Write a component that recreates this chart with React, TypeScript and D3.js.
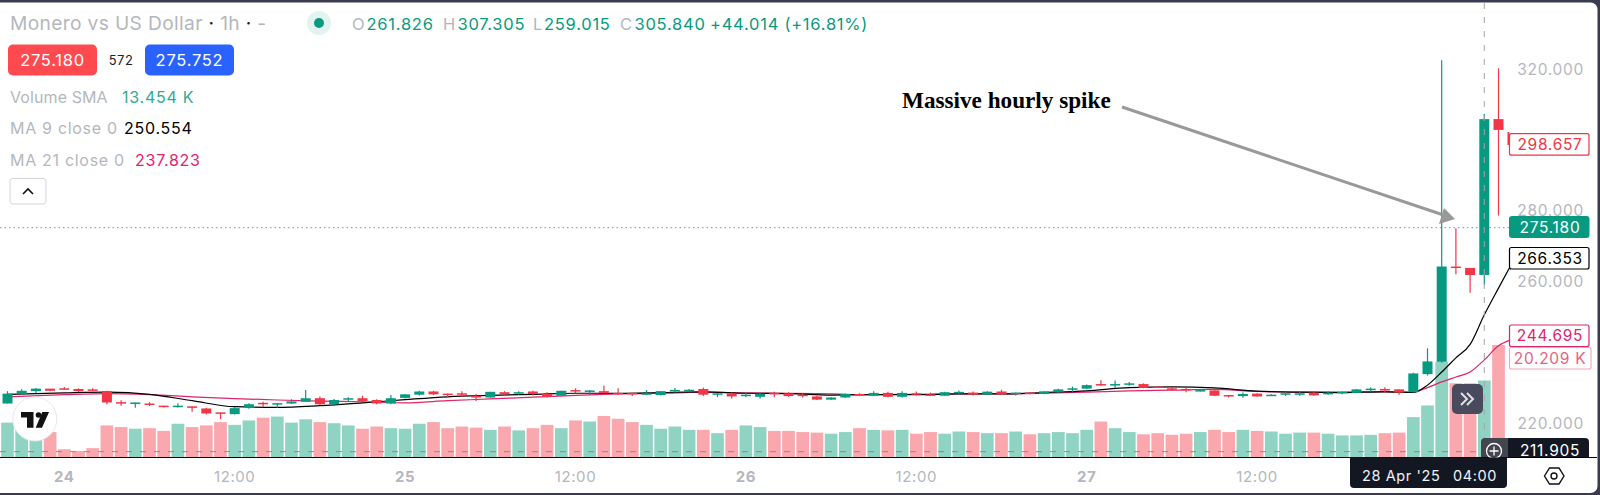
import * as d3 from 'd3';

// hourly XMR/USD candles
const opens = [
  225.5, 228.2, 229.0, 229.7, 229.8, 229.6, 229.5, 229.0, 225.9, 225.6,
  225.5, 224.9, 224.7, 224.7, 224.1, 223.0, 222.5, 224.3, 225.7, 225.3,
  225.5, 226.0, 227.0, 225.3, 226.6, 227.0, 226.5, 225.5, 227.1, 228.0,
  228.9, 228.3, 228.4, 227.7, 227.2, 228.7, 228.4, 228.9, 228.2, 227.7,
  229.3, 228.8, 229.0, 228.5, 228.5, 228.2, 227.9, 229.05, 229.1, 229.6,
  228.1, 228.3, 227.8, 227.4, 228.5, 228.4, 228.0, 227.5, 226.6, 227.2,
  228.2, 227.7, 228.5, 227.4, 228.4, 228.1, 227.7, 228.4, 228.6, 228.0,
  228.9, 228.2, 228.6, 228.2, 228.8, 229.5, 229.7, 231.0, 230.8, 230.9,
  231.0, 230.3, 229.8, 229.6, 229.0, 229.2, 227.9, 227.6, 228.3, 227.8,
  228.1, 228.1, 228.6, 228.1, 228.5, 228.5, 229.4, 229.6, 229.5, 228.7,
  233.8, 237.3, 264.2, 263.8, 261.826, 305.84,
];
const highs = [
  229.0, 229.5, 229.9, 229.7, 230.2, 229.8, 229.8, 229.1, 226.4, 225.8,
  225.9, 224.9, 225.6, 224.7, 224.3, 223.0, 224.5, 225.6, 226.0, 225.6,
  226.7, 229.3, 227.5, 226.8, 227.3, 227.7, 226.7, 227.9, 228.1, 229.1,
  229.1, 228.3, 229.0, 228.2, 228.8, 229.0, 229.0, 229.1, 228.7, 229.1,
  229.8, 229.3, 230.6, 229.8, 228.5, 229.3, 229.0, 229.9, 229.6, 230.0,
  228.4, 228.6, 228.6, 228.4, 228.8, 228.7, 228.3, 227.7, 227.3, 228.3,
  228.4, 229.0, 228.8, 229.0, 228.9, 228.6, 228.8, 229.2, 228.9, 229.0,
  229.4, 228.6, 228.6, 229.0, 229.7, 230.3, 230.9, 232.1, 232.0, 231.6,
  231.2, 230.4, 230.2, 230.0, 229.4, 229.3, 227.9, 228.6, 228.4, 228.1,
  228.8, 229.0, 229.0, 229.0, 229.0, 229.6, 230.0, 230.1, 229.5, 234.2,
  241.1, 322.5, 275.0, 263.8, 307.305, 320.2,
];
const lows = [
  225.5, 228.0, 228.4, 229.0, 229.5, 228.8, 229.0, 225.3, 224.9, 224.3,
  224.8, 224.4, 224.4, 223.2, 222.4, 221.1, 222.4, 224.0, 224.6, 224.3,
  225.4, 226.0, 225.1, 224.7, 226.0, 226.0, 225.3, 225.3, 226.9, 227.8,
  227.9, 227.2, 227.4, 226.2, 227.1, 227.8, 228.0, 227.8, 227.2, 227.7,
  228.4, 227.9, 228.4, 227.9, 227.6, 227.9, 227.8, 228.7, 228.7, 227.6,
  227.3, 226.9, 227.3, 226.9, 227.3, 227.4, 227.2, 226.5, 226.5, 227.1,
  227.8, 227.6, 227.3, 227.2, 227.8, 227.6, 227.6, 228.1, 227.8, 227.9,
  227.9, 227.8, 228.1, 228.1, 228.4, 228.8, 229.6, 230.5, 229.8, 230.5,
  229.8, 229.9, 229.2, 228.7, 228.9, 227.6, 227.2, 227.1, 227.4, 227.6,
  227.6, 227.7, 227.7, 227.9, 228.1, 228.4, 228.8, 228.7, 228.0, 228.6,
  233.4, 237.0, 262.0, 256.8, 259.015, 278.6,
];
const closes = [
  228.3, 229.1, 229.7, 229.1, 229.6, 229.0, 229.1, 225.8, 225.7, 225.8,
  225.2, 224.6, 224.9, 224.4, 222.7, 222.8, 224.2, 225.3, 225.5, 225.6,
  226.1, 227.0, 225.3, 226.5, 227.0, 226.2, 225.5, 227.0, 228.1, 228.9,
  228.1, 228.1, 228.1, 227.2, 228.8, 228.2, 228.7, 228.2, 227.4, 229.1,
  229.1, 229.2, 228.5, 228.3, 228.2, 228.4, 229.0, 229.35, 229.4, 228.0,
  228.4, 227.5, 228.0, 228.3, 228.3, 227.6, 227.6, 226.6, 227.2, 228.2,
  227.9, 228.5, 227.4, 228.5, 228.1, 227.9, 228.7, 228.8, 228.0, 228.85,
  228.1, 228.6, 228.3, 228.95, 229.5, 229.8, 230.7, 230.7, 231.0, 231.2,
  229.9, 230.0, 229.6, 229.4, 229.3, 227.7, 227.65, 228.2, 227.5, 228.0,
  228.4, 228.4, 227.8, 228.6, 228.8, 229.5, 229.7, 229.2, 228.6, 234.0,
  237.4, 264.2, 263.9, 261.8, 305.84, 302.8,
];
// thousands
const volumes = [
  6.2, 6.6, 6.0, 4.5, 1.4, 1.1, 1.6, 5.7, 5.4, 5.1,
  5.2, 4.7, 6.0, 5.4, 5.7, 6.3, 5.8, 6.6, 7.1, 7.3,
  6.2, 6.8, 6.3, 6.1, 5.7, 5.1, 5.5, 5.2, 5.1, 6.0,
  6.3, 5.2, 5.5, 5.3, 4.9, 5.5, 4.8, 5.2, 5.8, 5.2,
  6.6, 6.4, 7.4, 6.9, 6.3, 5.8, 5.1, 5.5, 4.9, 4.9,
  4.3, 4.9, 5.7, 5.4, 4.7, 4.7, 4.5, 4.4, 4.2, 4.5,
  5.2, 4.9, 4.8, 4.9, 4.2, 4.5, 4.2, 4.6, 4.5, 4.3,
  4.3, 4.6, 4.1, 4.3, 4.5, 4.3, 4.9, 6.4, 5.2, 4.5,
  4.1, 4.3, 4.0, 4.2, 4.5, 4.9, 4.5, 4.9, 4.7, 4.6,
  4.2, 4.4, 4.4, 4.2, 3.9, 3.9, 4.0, 4.3, 4.4, 7.2,
  9.3, 17.2, 13.3, 13.3, 13.8, 20.209,
];

// moving averages, read at these bar positions
const maBars = [
  0, 4, 7, 10, 13, 16, 19, 22, 25, 28, 31, 34, 37, 40, 43, 46, 49, 52, 55, 58, 61, 64,
  67, 70, 73, 76, 79, 82, 85, 88, 91, 94, 97, 99, 100, 101, 102, 103, 104, 105, 105.8,
];
const ma9 = [
  228.1, 228.5, 228.7, 228.1, 226.3, 224.6, 224.4, 224.9, 225.7, 226.6, 227.4, 227.8, 228.1, 228.4,
  228.4, 228.6, 228.8, 228.4, 228.3, 227.9, 228.0, 228.0, 228.2, 228.2, 228.6, 229.1, 230.0, 230.2,
  229.9, 229.0, 228.7, 228.6, 228.8, 228.66, 230.7, 234.4, 238.4, 242.2, 250.554, 258.1, 264.0,
];
const ma21 = [
  227.4, 228.0, 228.3, 228.0, 227.4, 226.9, 226.5, 226.2, 226.0, 225.7, 226.3, 226.8, 227.3, 227.8,
  228.2, 228.4, 228.7, 228.5, 228.4, 228.2, 228.0, 228.1, 228.2, 228.2, 228.4, 228.7, 229.1, 229.3,
  229.5, 228.9, 228.75, 228.75, 228.85, 228.7, 230.0, 231.6, 233.0, 234.4, 237.823, 241.8, 243.4,
];

const priceTicks = [220, 260, 280, 320];
const timeBars = [4, 16, 28, 40, 52, 64, 76, 88];
const timeLabels = ['24', '12:00', '25', '12:00', '26', '12:00', '27', '12:00'];
const ohlcLabels = ['O', 'H', 'L', 'C'];
const ohlcValues = ['261.826', '307.305', '259.015', '305.840'];
const ohlcX = [352, 443, 533, 620];

const UP = '#089981';
const DOWN = '#f23645';
const GREY = '#b4b7be';
const PINK = '#e0246b';
const FONT = 'Inter, sans-serif';

const x = d3.scaleLinear().domain([0, 105]).range([7.5, 1498.5]);
const y = d3.scaleLinear().domain([220, 320]).range([423, 69]);
const vol = d3.scaleLinear().domain([0, 20.209]).range([457, 345]);

const maPath = (values: number[]) =>
  d3
    .line<number>()
    .x((_, i) => x(maBars[i]))
    .y((d) => y(d))
    .curve(d3.curveMonotoneX)(values) as string;

// price tag on the right-hand scale
const Tag = ({ top, h = 21.5, value, stroke, color, fill = '#fff', right = 1589 }: any) => (
  <g>
    <rect x={1509.5} y={top} width={right - 1509.5} height={h} rx={2} fill={fill} stroke={stroke} strokeWidth={1.2} />
    <text x={1550} y={top + h / 2 + 5.5} textAnchor="middle" fontSize={15.5} letterSpacing={0.7} fill={color}>
      {value}
    </text>
  </g>
);

export default function App() {
  const volBarWidth = 12.7;
  const bodyWidth = 10;

  return (
    <svg
      width={1600}
      height={495}
      style={{ position: 'absolute', left: 0, top: 0, display: 'block' }}
      fontFamily={FONT}
    >
      <rect width={1600} height={495} fill="#3b3b4f" />
      <rect x={-8} y={2.5} width={1605.5} height={490.5} rx={7} fill="#fff" />

      {/* volume */}
      {volumes.map((v, i) => (
        <rect
          key={i}
          x={x(i) - volBarWidth / 2}
          y={vol(v)}
          width={volBarWidth}
          height={vol(0) - vol(v)}
          fill={closes[i] >= opens[i] ? '#8fd4c3' : '#faa8ae'}
        />
      ))}

      {/* last price + crosshair */}
      <line x1={0} x2={1509} y1={y(275.18)} y2={y(275.18)} stroke={UP} strokeWidth={1} strokeDasharray="1.5 3" opacity={0.75} />
      <line x1={0} x2={1482} y1={y(211.905)} y2={y(211.905)} stroke="#8c8c8c" strokeWidth={1} strokeDasharray="6 8" />

      {/* moving averages */}
      <path d={maPath(ma21)} fill="none" stroke={PINK} strokeWidth={1.2} />
      <path d={maPath(ma9)} fill="none" stroke="#000" strokeWidth={1.2} />

      {/* candles */}
      {opens.map((o, i) => {
        const c = closes[i];
        const col = c >= o ? UP : DOWN;
        const top = y(Math.max(o, c));
        const bodyH = Math.max(1.5, Math.abs(y(o) - y(c)));
        return (
          <g key={i}>
            <line x1={x(i)} x2={x(i)} y1={y(highs[i])} y2={y(lows[i])} stroke={col} strokeWidth={1.2} />
            <rect x={x(i) - bodyWidth / 2} y={top} width={bodyWidth} height={bodyH} fill={col} />
          </g>
        );
      })}

      <line x1={x(104)} x2={x(104)} y1={3} y2={457} stroke="#a2a4a8" strokeWidth={1} strokeDasharray="6 8" />

      {/* axis */}
      <line x1={0} x2={1597} y1={457.5} y2={457.5} stroke="#000" strokeWidth={1.2} />
      {priceTicks.map((t) => (
        <text key={t} x={1584} y={y(t) + 5.5} textAnchor="end" fontSize={15.5} letterSpacing={0.7} fill={GREY}>
          {t.toFixed(3)}
        </text>
      ))}
      {timeBars.map((b, i) => (
        <text
          key={b}
          x={x(b)}
          y={482}
          textAnchor="middle"
          fontSize={15}
          letterSpacing={0.6}
          fontWeight={timeLabels[i].includes(':') ? 400 : 700}
          fill={GREY}
        >
          {timeLabels[i]}
        </text>
      ))}

      {/* header */}
      <text x={10} y={30} fontSize={19.2} letterSpacing={0.35} fill={GREY}>
        Monero vs US Dollar <tspan fill="#222">·</tspan> 1h <tspan fill="#222">·</tspan> -
      </text>
      <circle cx={319} cy={23} r={12} fill="#e3f3ef" />
      <circle cx={319} cy={23} r={5} fill={UP} />
      {ohlcLabels.map((l, i) => (
        <g key={l} fontSize={16.5} letterSpacing={0.75}>
          <text x={ohlcX[i]} y={30} fill={GREY}>{l}</text>
          <text x={ohlcX[i] + (l === 'L' ? 11 : 14.5)} y={30} fill={UP}>{ohlcValues[i]}</text>
        </g>
      ))}
      <text x={710} y={30} fontSize={16.5} letterSpacing={0.75} fill={UP}>+44.014 (+16.81%)</text>

      <rect x={8} y={44.5} width={89} height={31} rx={5} fill="#ff4a4f" />
      <text x={52.5} y={66} textAnchor="middle" fontSize={16.5} letterSpacing={0.75} fill="#fff">275.180</text>
      <text x={121} y={65} textAnchor="middle" fontSize={13} letterSpacing={0.5} fill="#222">572</text>
      <rect x={145} y={44.5} width={89} height={31} rx={5} fill="#2962ff" />
      <text x={189.5} y={66} textAnchor="middle" fontSize={16.5} letterSpacing={0.75} fill="#fff">275.752</text>

      <g fontSize={16} letterSpacing={0.75}>
        <text x={10} y={103} fill={GREY} letterSpacing={0.1}>Volume SMA</text>
        <text x={122} y={103} fill="#2fab8f">13.454 K</text>
        <text x={10} y={134} fill={GREY} letterSpacing={0.7}>MA 9 close 0</text>
        <text x={124} y={134} fill="#000">250.554</text>
        <text x={10} y={165.5} fill={GREY} letterSpacing={0.7}>MA 21 close 0</text>
        <text x={135} y={165.5} fill={PINK}>237.823</text>
      </g>
      <rect x={10} y={178.5} width={36} height={25.5} rx={3} fill="#fff" stroke="#d3d6db" strokeWidth={1} />
      <path d="M23 194 L28 189 L33 194" fill="none" stroke="#111" strokeWidth={1.6} />

      {/* logo */}
      <circle cx={34.8} cy={419} r={22} fill="#fff" stroke="#e8e9ec" strokeWidth={1} />
      <path d="M21 412 H33.5 V427.7 H27 V417.5 H21 Z" fill="#111" />
      <circle cx={38.5} cy={415} r={2.8} fill="#111" />
      <path d="M49 412 H42.3 L35.7 427.7 H42 Z" fill="#111" />

      {/* annotation */}
      <text x={902} y={108} fontFamily="'Liberation Serif', serif" fontWeight={700} fontSize={23.2} fill="#000">
        Massive hourly spike
      </text>
      <line x1={1122} y1={107} x2={1442} y2={214.5} stroke="#999" strokeWidth={3} />
      <path d="M1455 219 L1439 224 L1444 208 Z" fill="#999" />

      {/* scale tags */}
      <rect x={1507.5} y={132} width={2} height={13} fill={DOWN} />
      <Tag top={133.7} value="298.657" stroke={DOWN} color={DOWN} />
      <rect x={1509} y={216} width={80.5} height={22} rx={3} fill={UP} />
      <text x={1550} y={232.5} textAnchor="middle" fontSize={15.5} letterSpacing={0.7} fill="#fff">275.180</text>
      <Tag top={247.5} value="266.353" stroke="#000" color="#000" />
      <Tag top={325} value="244.695" stroke={PINK} color={PINK} />
      <Tag top={347.5} value="20.209 K" stroke="#f7a9b8" color="#ea5f86" right={1591} />

      {/* volume-pane controls */}
      <rect x={1452} y={384} width={31} height={30} rx={5} fill="#4a4a5e" />
      <path d="M1461 393 L1467 399 L1461 405 M1467 393 L1473 399 L1467 405" fill="none" stroke="#dfe1e6" strokeWidth={2} />
      <path d="M1481 457 V442 a4 4 0 0 1 4 -4 H1510 V457 Z" fill="#44464f" />
      <path d="M1508 438 H1585 a4 4 0 0 1 4 4 V457 H1508 Z" fill="#131722" />
      <circle cx={1494} cy={451} r={7.5} fill="none" stroke="#fff" strokeWidth={1.3} />
      <path d="M1489.5 451 H1498.5 M1494 446.5 V455.5" stroke="#fff" strokeWidth={1.3} />
      <text x={1550} y={456} textAnchor="middle" fontSize={15.5} letterSpacing={0.7} fill="#fff">211.905</text>

      <path d="M1350 457.5 H1507 V484 a4 4 0 0 1 -4 4 H1354 a4 4 0 0 1 -4 -4 Z" fill="#131722" />
      <text x={1362} y={481} fontSize={14.5} letterSpacing={0.6} fill="#f0f3fa">28 Apr '25</text>
      <text x={1453} y={481} fontSize={14.5} letterSpacing={0.6} fill="#f0f3fa">04:00</text>

      {/* settings */}
      <path d="M1544.5 476 L1549.5 468 H1559 L1564 476 L1559 484 H1549.5 Z" fill="none" stroke="#111" strokeWidth={1.4} />
      <circle cx={1554} cy={476} r={3} fill="none" stroke="#111" strokeWidth={1.4} />
    </svg>
  );
}
